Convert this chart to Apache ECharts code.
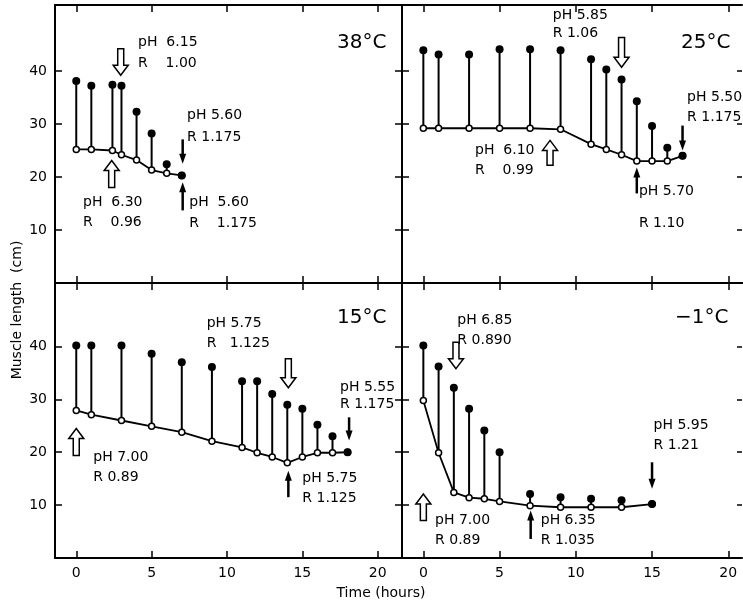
<!DOCTYPE html>
<html><head><meta charset="utf-8">
<script src="https://cdn.jsdelivr.net/npm/echarts@6/dist/echarts.min.js"></script>
<style>html,body{margin:0;padding:0;background:#fff}#c{width:743px;height:604px}</style>
</head><body><div id="c"></div><script>
// ---------- data (time in hours, muscle length in cm) ----------
const t38 = [0, 1, 2.4, 3, 4, 5, 6, 7];
const stretched38 = [38.1, 37.2, 37.4, 37.2, 32.3, 28.2, 22.4, 20.3];
const contracted38 = [25.2, 25.2, 25.0, 24.2, 23.2, 21.3, 20.7, 20.3];

const t25 = [0, 1, 3, 5, 7, 9, 11, 12, 13, 14, 15, 16, 17];
const stretched25 = [43.9, 43.1, 43.1, 44.1, 44.1, 43.9, 42.2, 40.3, 38.4, 34.3, 29.6, 25.5, 24.0];
const contracted25 = [29.2, 29.2, 29.2, 29.2, 29.2, 29.0, 26.2, 25.2, 24.2, 23.0, 23.0, 23.0, 24.0];

const t15 = [0, 1, 3, 5, 7, 9, 11, 12, 13, 14, 15, 16, 17, 18];
const stretched15 = [40.2, 40.2, 40.2, 38.6, 37.0, 36.1, 33.4, 33.4, 31.0, 29.0, 28.2, 25.2, 23.0, 20.0];
const contracted15 = [27.9, 27.1, 26.0, 24.9, 23.8, 22.1, 20.9, 19.9, 19.1, 18.0, 19.1, 19.9, 19.9, 20.0];

const tM1 = [0, 1, 2, 3, 4, 5, 7, 9, 11, 13, 15];
const stretchedM1 = [40.2, 36.2, 32.2, 28.2, 24.1, 20.0, 12.1, 11.5, 11.2, 10.9, 10.2];
const contractedM1 = [29.8, 19.9, 12.4, 11.4, 11.2, 10.7, 9.9, 9.6, 9.6, 9.6, 10.2];

const xTicks = [0, 5, 10, 15, 20];
const yTicks = [10, 20, 30, 40];
const panelTitles = ['38°C', '25°C', '15°C', '−1°C'];
const titleAt = [[17.3, 45.4], [16.9, 45.4], [17.3, 45.5], [16.5, 45.5]];

// annotations in data coordinates: [hour, cm, text]
const notes38 = [[4.1,45.4,'pH  6.15'],[4.1,41.4,'R    1.00'],[7.35,31.6,'pH 5.60'],[7.35,27.4,'R 1.175'],
  [0.45,15.2,'pH  6.30'],[0.45,11.4,'R    0.96'],[7.5,15.2,'pH  5.60'],[7.5,11.2,'R    1.175']];
const notes25 = [[8.49,50.5,'pH 5.85'],[8.49,47.1,'R 1.06'],[17.3,35.0,'pH 5.50'],[17.3,31.2,'R 1.175'],
  [3.39,25.0,'pH  6.10'],[3.39,21.2,'R    0.99'],[14.14,17.3,'pH 5.70'],[14.14,11.2,'R 1.10']];
const notes15 = [[8.65,44.3,'pH 5.75'],[8.65,40.5,'R   1.125'],[17.5,32.3,'pH 5.55'],[17.5,29.1,'R 1.175'],
  [1.13,19.1,'pH 7.00'],[1.13,15.3,'R 0.89'],[15.0,15.0,'pH 5.75'],[15.0,11.2,'R 1.125']];
const notesM1 = [[2.23,45.0,'pH 6.85'],[2.23,41.1,'R 0.890'],[15.1,25.0,'pH 5.95'],[15.1,21.3,'R 1.21'],
  [0.77,7.1,'pH 7.00'],[0.77,3.3,'R 0.89'],[7.7,7.1,'pH 6.35'],[7.7,3.3,'R 1.035']];

// arrows: [hour, tip cm, tail cm, kind (0 = open, 1 = solid)]
const arrows38 = [[2.95,39.2,44.2,0],[7.06,22.5,27.1,1],[2.35,23.1,18.0,0],[7.06,19.0,13.7,1]];
const arrows25 = [[13.0,40.7,46.3,0],[17.0,25.0,29.7,1],[8.31,26.9,22.2,0],[14.0,21.8,16.9,1]];
const arrows15 = [[14.07,32.2,37.7,0],[18.1,22.2,26.6,1],[0,24.5,19.4,0],[14.07,16.5,11.5,1]];
const arrowsM1 = [[2.14,35.8,40.8,0],[15.0,13.1,18.1,1],[0,12.1,7.1,0],[7.04,9.0,3.6,1]];

// ---------- chart ----------
const FONT = 'DejaVu Sans';
const panels = [
  {t:t38, up:stretched38, lo:contracted38, notes:notes38, arrows:arrows38},
  {t:t25, up:stretched25, lo:contracted25, notes:notes25, arrows:arrows25},
  {t:t15, up:stretched15, lo:contracted15, notes:notes15, arrows:arrows15},
  {t:tM1, up:stretchedM1, lo:contractedM1, notes:notesM1, arrows:arrowsM1}
];
const grids = [
  {left:55, top:5, width:347, height:278},
  {left:402, top:5, width:340, height:278},
  {left:55, top:283, width:347, height:275},
  {left:402, top:283, width:340, height:275}
];
const xRange = [[-1.41, 21.61], [-1.40, 20.9], [-1.41, 21.61], [-1.40, 20.9]];
const yMax = [52.45, 52.45, 52.0, 52.0];

const xAxes = [], yAxes = [], series = [];
const lineSt = {color:'#000', width:2};
panels.forEach((p, i) => {
  const isLeft = (i % 2 === 0), isBottom = i >= 2;
  ['bottom','top'].forEach(pos => {
    xAxes.push({
      gridIndex:i, type:'value', position:pos, min:xRange[i][0], max:xRange[i][1],
      axisLine:{show:true, onZero:false, lineStyle:lineSt},
      axisTick:{show:true, inside:true, length:7, customValues:xTicks, lineStyle:{color:'#000', width:1.5}},
      axisLabel:{show: isBottom && pos==='bottom', customValues:xTicks, color:'#000', fontSize:14, fontFamily:FONT, margin:8},
      splitLine:{show:false}
    });
  });
  ['left','right'].forEach(pos => {
    const edge = (!isLeft && pos==='right');
    yAxes.push({
      gridIndex:i, type:'value', position:pos, min:0, max:yMax[i],
      axisLine:{show:!edge, onZero:false, lineStyle:lineSt},
      axisTick:{show:true, inside:true, length: edge ? 5 : 7, customValues:yTicks, lineStyle:{color:'#000', width:1.5}},
      axisLabel:{show: isLeft && pos==='left', customValues:yTicks, color:'#000', fontSize:14, fontFamily:FONT, margin:8},
      splitLine:{show:false}
    });
  });
  const xi = i*2, yi = i*2;
  // stems
  series.push({
    type:'custom', coordinateSystem:'cartesian2d', xAxisIndex:xi, yAxisIndex:yi, z:1, silent:true,
    data: p.t.map((t,k) => [t, p.lo[k], p.up[k]]),
    renderItem: (params, api) => {
      const a = api.coord([api.value(0), api.value(1)]);
      const b = api.coord([api.value(0), api.value(2)]);
      return {type:'line', shape:{x1:a[0], y1:a[1], x2:b[0], y2:b[1]}, style:{stroke:'#000', lineWidth:2}};
    }
  });
  // contracted (open circles, joined)
  series.push({
    type:'line', xAxisIndex:xi, yAxisIndex:yi, z:2, silent:true,
    data: p.t.map((t,k) => [t, p.lo[k]]),
    symbol:'circle', symbolSize:6, showAllSymbol:true,
    itemStyle:{color:'#fff', borderColor:'#000', borderWidth:1.5, opacity:1},
    lineStyle:{color:'#000', width:1.8}
  });
  // stretched (filled circles)
  series.push({
    type:'scatter', xAxisIndex:xi, yAxisIndex:yi, z:3, silent:true,
    data: p.t.map((t,k) => [t, p.up[k]]),
    symbol:'circle', symbolSize:8, itemStyle:{color:'#000', opacity:1}
  });
  // arrows
  series.push({
    type:'custom', coordinateSystem:'cartesian2d', xAxisIndex:xi, yAxisIndex:yi, z:4, silent:true, clip:false,
    data: p.arrows.map(a => [a[0], a[1], a[2], a[3]]),
    renderItem: (params, api) => {
      const tip = api.coord([api.value(0), api.value(1)]);
      const tail = api.coord([api.value(0), api.value(2)]);
      const kind = api.value(3);
      const d = tail[1] > tip[1] ? 1 : -1;
      const x = tip[0], ty = tip[1];
      if (kind === 0) {
        const hw = 7.5, sw = 3, hl = 10;
        return {type:'polygon', shape:{points:[[x,ty],[x+hw,ty+d*hl],[x+sw,ty+d*hl],[x+sw,tail[1]],[x-sw,tail[1]],[x-sw,ty+d*hl],[x-hw,ty+d*hl]]},
          style:{fill:'#fff', stroke:'#000', lineWidth:1.5}};
      }
      return {type:'group', children:[
        {type:'line', shape:{x1:x, y1:tail[1], x2:x, y2:ty+d*8}, style:{stroke:'#000', lineWidth:2.5}},
        {type:'polygon', shape:{points:[[x,ty],[x+3.5,ty+d*10],[x-3.5,ty+d*10]]}, style:{fill:'#000'}}
      ]};
    }
  });
  // annotation texts
  series.push({
    type:'custom', coordinateSystem:'cartesian2d', xAxisIndex:xi, yAxisIndex:yi, z:5, silent:true, clip:false,
    data: p.notes.map(n => [n[0], n[1]]),
    renderItem: (params, api) => {
      const c = api.coord([api.value(0), api.value(1)]);
      return {type:'text', x:c[0], y:c[1], style:{text:p.notes[params.dataIndex][2], fill:'#000', fontSize:14, fontFamily:FONT, align:'left', verticalAlign:'middle'}};
    }
  });
  // panel title
  series.push({
    type:'custom', coordinateSystem:'cartesian2d', xAxisIndex:xi, yAxisIndex:yi, z:5, silent:true, clip:false,
    data: [titleAt[i]],
    renderItem: (params, api) => {
      const c = api.coord([api.value(0), api.value(1)]);
      return {type:'text', x:c[0], y:c[1], style:{text:panelTitles[i], fill:'#000', fontSize:20, fontFamily:FONT, align:'left', verticalAlign:'middle'}};
    }
  });
});

const chart = echarts.init(document.getElementById('c'), null, {renderer:'canvas'});
chart.setOption({
  animation:false,
  backgroundColor:'#fff',
  grid: grids,
  xAxis: xAxes,
  yAxis: yAxes,
  series: series,
  graphic: [
    {type:'text', x:17, y:310, rotation:Math.PI/2, style:{text:'Muscle length  (cm)', fill:'#000', fontSize:14, fontFamily:FONT, align:'center', verticalAlign:'middle'}},
    {type:'text', x:381, y:593, style:{text:'Time (hours)', fill:'#000', fontSize:14, fontFamily:FONT, align:'center', verticalAlign:'middle'}}
  ]
});
</script></body></html>
